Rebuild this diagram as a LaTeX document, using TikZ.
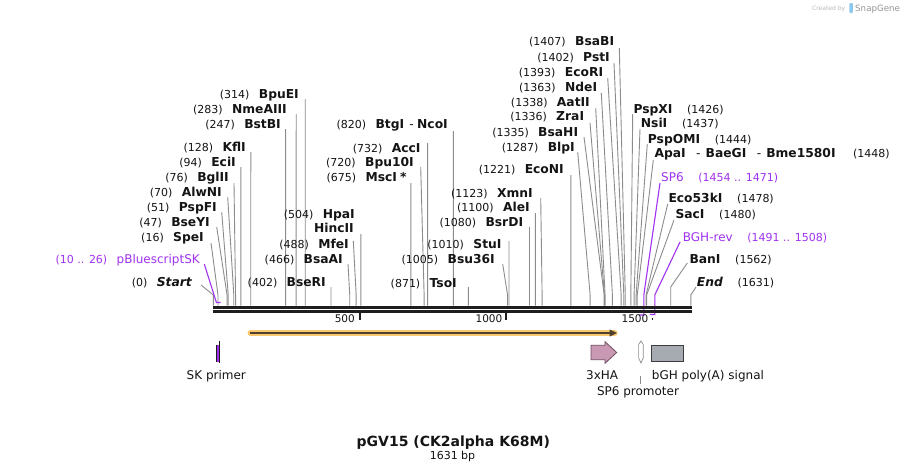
\documentclass[tikz,border=0pt]{standalone}
\usepackage{fontspec}
\setmainfont{DejaVu Sans}
\definecolor{cutgray}{RGB}{140,140,140}
\definecolor{primer}{RGB}{160,50,240}
\definecolor{txt}{RGB}{20,20,20}
\definecolor{bbcol}{RGB}{30,30,30}
\definecolor{orfband}{RGB}{249,200,110}
\definecolor{orfdark}{RGB}{80,65,45}
\definecolor{hapink}{RGB}{201,152,178}
\definecolor{hadark}{RGB}{110,75,95}
\definecolor{bghgray}{RGB}{166,171,178}
\definecolor{bghdark}{RGB}{60,60,65}
\definecolor{wmgray}{RGB}{185,185,185}
\definecolor{wmgray2}{RGB}{150,150,150}
\definecolor{wmblue}{RGB}{140,200,240}
\tikzset{
  nm/.style={inner sep=0pt, font=\fontsize{12.3}{14}\selectfont\bfseries, text=txt},
  nmi/.style={inner sep=0pt, font=\fontsize{12.3}{14}\selectfont\bfseries\itshape, text=txt},
  nb/.style={inner sep=0pt, font=\fontsize{11}{13}\selectfont, text=txt},
  pnm/.style={inner sep=0pt, font=\fontsize{12}{14}\selectfont, text=primer},
  pnb/.style={inner sep=0pt, font=\fontsize{11}{13}\selectfont, text=primer},
  ft/.style={inner sep=0pt, font=\fontsize{12}{14}\selectfont, text=txt},
  ticklab/.style={inner sep=0pt, font=\fontsize{10.5}{12}\selectfont, text=txt},
  cutline/.style={draw=cutgray, line width=0.9pt},
  pline/.style={draw=primer, line width=1.1pt},
  bbline/.style={draw=bbcol, line width=2.7pt},
  tickline/.style={draw=bbcol, line width=1.8pt},
}
\newcommand\labL[5]{%
  \node[nm,anchor=base east] (n#1) at (#4,#5+4.4) {#3};
  \node[nb,anchor=base east] (p#1) at ([xshift=-9pt]n#1.base west) {#2};}
\newcommand\labR[5]{%
  \node[nm,anchor=base west] (n#1) at (#4,#5+4.4) {#3};
  \node[nb,anchor=base west] (p#1) at ([xshift=14.3pt]n#1.base east) {#2};}
\newcommand\cutln[4]{%
  \coordinate (t#1) at (#2,#3);
  \coordinate (k#1) at ({213.3+0.2928*#4},295);
  \coordinate (b#1) at ({213.3+0.2928*#4},305.5);
  \draw[cutline] (t#1) -- (k#1) -- (b#1);}
\begin{document}
\begin{tikzpicture}[x=1pt,y=-1pt]
\useasboundingbox (0,0) rectangle (905,472);
\fill[white] (0,0) rectangle (905,472);

% ---- cut-site connectors
\cutln{bpu}{305.2}{99}{314}
\cutln{nme}{296.2}{114}{283}
\cutln{bst}{285.6}{129}{247}
\cutln{kfl}{250.8}{152}{128}
\cutln{eci}{240.8}{167}{94}
\cutln{bgl}{234}{183}{76}
\cutln{alw}{227.7}{197}{70}
\cutln{psf}{221.7}{212}{51}
\cutln{bsy}{216.7}{227}{47}
\cutln{spe}{211}{243}{16}
\cutln{start}{201}{285}{0}
\cutln{hpa}{360.9}{234}{504}
\cutln{mfe}{353.3}{241}{488}
\cutln{bsaa}{348}{264}{466}
\cutln{bser}{331}{287}{402}
\cutln{btg}{453.4}{131}{820}
\cutln{acc}{427.6}{143}{732}
\cutln{bputen}{420.7}{167}{720}
\cutln{msc}{410.9}{183}{675}
\cutln{stu}{509}{241}{1010}
\cutln{bsu}{502.7}{264}{1005}
\cutln{tso}{468.3}{287}{871}
\cutln{bsrd}{529.5}{227}{1080}
\cutln{ale}{535.4}{213}{1100}
\cutln{xmn}{540.7}{198}{1123}
\cutln{econ}{570.8}{175}{1221}
\cutln{bsab}{619.3}{48}{1407}
\cutln{pst}{614}{63}{1402}
\cutln{ecori}{607.7}{78}{1393}
\cutln{nde}{601.3}{93}{1363}
\cutln{aat}{595.7}{108}{1338}
\cutln{zra}{590}{123}{1336}
\cutln{bsah}{584}{137}{1335}
\cutln{blp}{577.7}{152}{1287}
\cutln{pspx}{632.7}{114}{1426}
\cutln{nsi}{640}{129}{1437}
\cutln{pspo}{647.3}{144}{1444}
\cutln{apa}{653.3}{160}{1448}
\cutln{ecofs}{667.7}{204}{1478}
\cutln{sac}{674}{220}{1480}
\coordinate (tban) at (687.3,263);
\coordinate (kban) at (670.7,287);
\coordinate (bban) at (670.7,305.5);
\draw[cutline] (tban) -- (kban) -- (bban);
\cutln{end}{696}{287}{1631}

% ---- primer connectors
\coordinate (tpbs) at (204.3,264);
\coordinate (kpbs) at (216.4,302.5);
\coordinate (epbs) at (220.6,302.5);
\draw[pline] (tpbs) -- (kpbs) -- (epbs);
\coordinate (tspsix) at (660,183);
\coordinate (kspsix) at (643.8,295);
\coordinate (dspsix) at (643.8,315);
\coordinate (espsix) at (639,315);
\draw[pline] (tspsix) -- (kspsix) -- (dspsix) -- (espsix);
\coordinate (tbgh) at (680,242);
\coordinate (kbgh) at (654.8,295);
\coordinate (dbgh) at (654.8,314.5);
\coordinate (ebgh) at (649.9,314.5);
\draw[pline] (tbgh) -- (kbgh) -- (dbgh) -- (ebgh);

% ---- backbone
\draw[bbline] (213.3,307.3) -- (691.5,307.3);
\draw[bbline] (213.3,311.3) -- (691.5,311.3);
\draw[tickline] (359.7,312) -- (359.7,320);
\draw[tickline] (506.1,312) -- (506.1,320);
\draw[tickline] (652.5,317.6) -- (652.5,320);
\node[ticklab,anchor=base east] (tkfive) at (355,322.7) {500};
\node[ticklab,anchor=base east] (tkten) at (502.5,322.7) {1000};
\node[ticklab,anchor=base east] (tkfifteen) at (648.5,322.7) {1500};

% ---- labels, left side
\labL{bpu}{(314)}{BpuEI}{299}{94}
\labL{nme}{(283)}{NmeAIII}{287}{109}
\labL{bst}{(247)}{BstBI}{281}{124}
\labL{kfl}{(128)}{KflI}{246}{147}
\labL{eci}{(94)}{EciI}{236}{162}
\labL{bgl}{(76)}{BglII}{229}{177}
\labL{alw}{(70)}{AlwNI}{222}{192}
\labL{psf}{(51)}{PspFI}{217}{207}
\labL{bsy}{(47)}{BseYI}{210}{222}
\labL{spe}{(16)}{SpeI}{204}{237}
\node[pnm,anchor=base east] (npbs) at (200,263.4) {pBluescriptSK};
\node[pnb,anchor=base east] (ppbs) at ([xshift=-9pt]npbs.base west) {(10 .. 26)};
\node[nmi,anchor=base east] (nstart) at (192,286.4) {Start};
\node[nb,anchor=base east] (pstart) at ([xshift=-9pt]nstart.base west) {(0)};

\labL{hpa}{(504)}{HpaI}{355}{214}
\node[nm,anchor=base east] (nhinc) at (354,232.4) {HincII};
\labL{mfe}{(488)}{MfeI}{349}{244}
\labL{bsaa}{(466)}{BsaAI}{343}{259}
\labL{bser}{(402)}{BseRI}{326}{282}

\labL{btg}{(820)}{BtgI\hspace{5pt}{\mdseries -}\hspace{3.5pt}NcoI}{448}{124}
\labL{acc}{(732)}{AccI}{420.7}{148}
\labL{bputen}{(720)}{Bpu10I}{414}{162}
\labL{msc}{(675)}{MscI\hspace{3pt}*}{406.7}{177}
\labL{stu}{(1010)}{StuI}{501.7}{244}
\labL{bsu}{(1005)}{Bsu36I}{495}{259}
\labL{tso}{(871)}{TsoI}{457}{283}
\labL{bsrd}{(1080)}{BsrDI}{523.3}{222}
\labL{ale}{(1100)}{AleI}{530}{207}
\labL{xmn}{(1123)}{XmnI}{533}{193}
\labL{econ}{(1221)}{EcoNI}{564}{169}

\labL{bsab}{(1407)}{BsaBI}{614.3}{41}
\labL{pst}{(1402)}{PstI}{610}{57}
\labL{ecori}{(1393)}{EcoRI}{603.3}{72}
\labL{nde}{(1363)}{NdeI}{597.3}{87}
\labL{aat}{(1338)}{AatII}{590}{102}
\labL{zra}{(1336)}{ZraI}{584.3}{116}
\labL{bsah}{(1335)}{BsaHI}{578.3}{132}
\labL{blp}{(1287)}{BlpI}{575}{147}

% ---- labels, right side
\labR{pspx}{(1426)}{PspXI}{633.3}{109}
\labR{nsi}{(1437)}{NsiI}{640.7}{123}
\labR{pspo}{(1444)}{PspOMI}{647.7}{139}
\node[nm,anchor=base west] (napa) at (654.3,157.4) {ApaI\hspace{10.5pt}{\mdseries -}\hspace{5pt}BaeGI\hspace{10.5pt}{\mdseries -}\hspace{5pt}Bme1580I};
\node[nb,anchor=base west] (papa) at ([xshift=17pt]napa.base east) {(1448)};
\node[pnm,anchor=base west] (nspsix) at (661,181.4) {SP6};
\node[pnb,anchor=base west] (pspsix) at ([xshift=14.3pt]nspsix.base east) {(1454 .. 1471)};
\labR{ecofs}{(1478)}{Eco53kI}{668.3}{198}
\labR{sac}{(1480)}{SacI}{675.3}{214}
\node[pnm,anchor=base west] (nbgh) at (682.7,241.4) {BGH-rev};
\node[pnb,anchor=base west] (pbgh) at ([xshift=14.3pt]nbgh.base east) {(1491 .. 1508)};
\labR{ban}{(1562)}{BanI}{689.3}{259}
\node[nmi,anchor=base west] (nend) at (696.7,286.4) {End};
\node[nb,anchor=base west] (pend) at ([xshift=14.3pt]nend.base east) {(1631)};

% ---- features
\draw[orfband, line width=6pt, line cap=round] (250.5,333) -- (614.5,333);
\draw[orfdark, line width=1.8pt] (250,333) -- (611,333);
\fill[orfdark] (609.5,329.4) -- (617,333) -- (609.5,336.6) -- cycle;

\fill[primer] (216.2,345) rectangle (219.8,361.7);
\draw[bbcol, line width=0.6pt] (216.2,345) -- (216.2,361.7);
\draw[bbcol, line width=1pt] (219.6,340.5) -- (219.6,363);
\node[ft,anchor=base] (lsk) at (216.3,379.5) {SK primer};

\draw[fill=hapink, draw=hadark, line width=0.8pt]
  (591,345.3) -- (605,345.3) -- (605,341.7) -- (616.7,352.5) -- (605,363.3) -- (605,359.7) -- (591,359.7) -- cycle;
\node[ft,anchor=base] (lha) at (602.2,379.5) {3xHA};

\draw[fill=white, draw=cutgray, line width=0.7pt]
  (641,341) -- (643.2,344.5) -- (643.2,358) -- (641,363) -- (638.6,358) -- (638.6,344.5) -- cycle;
\draw[cutgray, line width=0.8pt] (640.8,376) -- (640.8,384);
\node[ft,anchor=base] (lsp6p) at (638,395) {SP6 promoter};

\draw[fill=bghgray, draw=bghdark, line width=0.8pt] (651.7,345.7) rectangle (683.3,361.7);
\node[ft,anchor=base west] (lbgh) at (651.7,379.5) {bGH poly(A) signal};

% ---- title
\node[inner sep=0pt, font=\fontsize{14}{16}\selectfont\bfseries, text=txt, anchor=base] (title) at (453.3,446) {pGV15 (CK2alpha K68M)};
\node[inner sep=0pt, font=\fontsize{11}{13}\selectfont, text=txt, anchor=base] (size) at (452.5,459.5) {1631 bp};

% ---- watermark
\node[inner sep=0pt, font=\fontsize{6}{7}\selectfont, text=wmgray, anchor=base west] (wmone) at (812,10.5) {Created by};
\fill[wmblue, rounded corners=1pt] (849.3,3) rectangle (852.8,13);
\node[inner sep=0pt, font=\fontsize{8.7}{10}\selectfont, text=wmgray2, anchor=base west] (wmtwo) at (855,11) {SnapGene};
\end{tikzpicture}
\end{document}
